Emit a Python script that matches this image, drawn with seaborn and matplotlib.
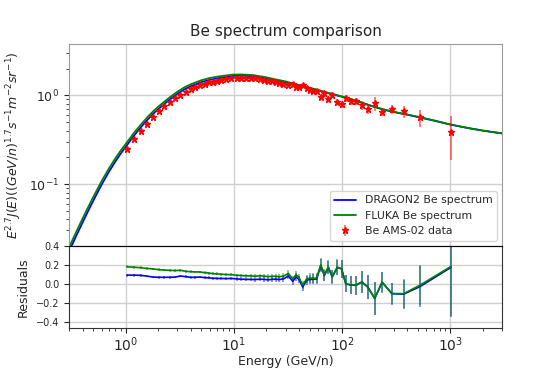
import numpy as np
import pandas as pd
import matplotlib
matplotlib.use("Agg")
import matplotlib.pyplot as plt
import seaborn as sns

sns.set_style("ticks")
plt.rcParams['font.family'] = ['DejaVu Sans']

# model curves
E_model = [0.3, 0.35, 0.4, 0.45, 0.5, 0.6, 0.7, 0.8, 0.9, 1.0, 1.2, 1.4, 1.6, 1.8, 2.0,
           2.5, 3.0, 3.5, 4.0, 5.0, 6.0, 7.0, 8.0, 10, 12, 15, 20, 25, 30, 40, 50, 60,
           80, 100, 130, 170, 200, 250, 300, 400, 500, 700, 1000, 1500, 2000, 3000]
dragon2 = [0.0174, 0.0261, 0.0368, 0.0495, 0.0641, 0.0984, 0.137, 0.178, 0.220, 0.262,
           0.354, 0.445, 0.535, 0.62, 0.70, 0.88, 1.04, 1.17, 1.27, 1.41, 1.50, 1.555,
           1.595, 1.66, 1.67, 1.645, 1.56, 1.47, 1.41, 1.29, 1.21, 1.14, 1.035, 0.965,
           0.88, 0.79, 0.74, 0.685, 0.65, 0.605, 0.57, 0.52, 0.468, 0.425, 0.40, 0.372]
fluka = [0.0193, 0.0289, 0.0408, 0.0547, 0.0706, 0.1080, 0.1495, 0.1935, 0.2385, 0.2825,
         0.3805, 0.4760, 0.5725, 0.663, 0.7455, 0.932, 1.097, 1.233, 1.337, 1.48, 1.572,
         1.625, 1.663, 1.718, 1.720, 1.694, 1.599, 1.503, 1.438, 1.307, 1.222, 1.148,
         1.04, 0.97, 0.882, 0.79, 0.74, 0.686, 0.652, 0.608, 0.574, 0.523, 0.47, 0.426,
         0.401, 0.373]

# AMS-02 Be data
E_data = [1.03, 1.19, 1.38, 1.56, 1.78, 2.02, 2.26, 2.57, 2.86, 3.21,
          3.59, 4.0, 4.42, 4.87, 5.38, 5.9, 6.4, 7.0, 7.6, 8.5,
          9.5, 10.6, 11.7, 13.0, 14.3, 15.6, 17.4, 19.1, 20.8, 22.3,
          24.3, 26.2, 28.7, 31.9, 35.0, 37.5, 40.0, 43.2, 47.0, 50.5,
          54.2, 58.2, 63.5, 68.4, 74.5, 81.0, 90.2, 98.7, 108, 120,
          134, 152, 173, 200, 234, 288, 370, 525, 1010]
flux = [0.247, 0.320, 0.397, 0.480, 0.570, 0.660, 0.758, 0.840, 0.930, 1.020,
        1.100, 1.190, 1.250, 1.300, 1.360, 1.400, 1.430, 1.460, 1.490, 1.540,
        1.580, 1.580, 1.580, 1.580, 1.580, 1.570, 1.540, 1.510, 1.470, 1.440,
        1.410, 1.390, 1.360, 1.310, 1.350, 1.240, 1.250, 1.310, 1.200, 1.150,
        1.130, 1.110, 0.970, 1.060, 0.920, 1.010, 0.840, 0.800, 0.925, 0.860,
        0.860, 0.770, 0.710, 0.810, 0.650, 0.700, 0.660, 0.565, 0.387]
flux_err = [0.004, 0.005, 0.006, 0.007, 0.008, 0.009, 0.011, 0.012, 0.013, 0.015,
            0.016, 0.017, 0.018, 0.019, 0.020, 0.021, 0.022, 0.023, 0.024, 0.025,
            0.027, 0.028, 0.029, 0.030, 0.031, 0.032, 0.033, 0.034, 0.035, 0.036,
            0.037, 0.038, 0.040, 0.045, 0.047, 0.048, 0.050, 0.055, 0.055, 0.058,
            0.060, 0.062, 0.065, 0.065, 0.067, 0.070, 0.070, 0.075, 0.080, 0.080,
            0.085, 0.090, 0.090, 0.140, 0.070, 0.080, 0.100, 0.120, 0.200]

# residuals (model - data) / data
res_dragon2 = [0.095, 0.095, 0.092, 0.085, 0.075, 0.072, 0.072, 0.072, 0.074, 0.085,
               0.078, 0.072, 0.072, 0.075, 0.068, 0.066, 0.062, 0.060, 0.060, 0.058,
               0.060, 0.055, 0.052, 0.050, 0.050, 0.048, 0.052, 0.050, 0.045, 0.050,
               0.052, 0.048, 0.055, 0.085, 0.030, 0.075, 0.050, -0.030, 0.040, 0.050,
               0.050, 0.055, 0.195, 0.090, 0.175, 0.075, 0.175, 0.160, 0.005, -0.010,
               -0.012, 0.022, -0.032, -0.150, 0.020, -0.100, -0.105, -0.025, 0.175]
res_fluka = [0.182, 0.178, 0.172, 0.165, 0.160, 0.152, 0.148, 0.145, 0.142, 0.145,
             0.135, 0.130, 0.128, 0.128, 0.120, 0.116, 0.110, 0.107, 0.105, 0.100,
             0.100, 0.093, 0.090, 0.087, 0.087, 0.083, 0.087, 0.084, 0.078, 0.082,
             0.083, 0.078, 0.084, 0.112, 0.055, 0.098, 0.070, -0.012, 0.055, 0.063,
             0.062, 0.065, 0.203, 0.096, 0.180, 0.079, 0.178, 0.163, 0.007, -0.009,
             -0.011, 0.023, -0.031, -0.149, 0.021, -0.098, -0.100, -0.010, 0.185]

res_err = np.array(flux_err) / np.array(flux)

df_model = pd.DataFrame({'E': E_model, 'DRAGON2': dragon2, 'FLUKA': fluka})

fig = plt.figure(figsize=(5.58, 3.68), dpi=100)
ax1 = fig.add_axes([0.1237, 0.3315, 0.776, 0.549])
ax2 = fig.add_axes([0.1237, 0.1087, 0.776, 0.2228], sharex=ax1)

sns.lineplot(data=df_model, x='E', y='DRAGON2', ax=ax1, color='blue', lw=1.3,
             label='DRAGON2 Be spectrum', estimator=None)
sns.lineplot(data=df_model, x='E', y='FLUKA', ax=ax1, color='green', lw=1.3,
             label='FLUKA Be spectrum', estimator=None)
ax1.errorbar(E_data, flux, yerr=flux_err, fmt='*', color='red', ms=4.5,
             elinewidth=1.2, ecolor=(1, 0, 0, 0.6), label='Be AMS-02 data')

ax1.set_xscale('log')
ax1.set_yscale('log')
ax1.set_xlim(0.3, 3000)
ax1.set_ylim(0.02, 3.8)
ax1.set_title('Be spectrum comparison', fontsize=11)
ax1.set_xlabel('')
ax1.set_ylabel(r'$E^{2.7}J(E)((GeV/n)^{1.7}s^{-1}m^{-2}sr^{-1})$', fontsize=9)
ax1.grid(True, which='major', color='#d0d0d0', lw=1)
ax1.tick_params(axis='x', which='both', labelbottom=False, length=0)
ax1.tick_params(axis='y', labelsize=9)
for side in ['left', 'top', 'right']:
    ax1.spines[side].set_color('#9a9a9a')
ax1.spines['bottom'].set_color('black')
ax1.legend(loc='lower right', fontsize=7.8, framealpha=0.8)

for res, col in [(res_dragon2, 'blue'), (res_fluka, 'green')]:
    line, caps, bars = ax2.errorbar(E_data, res, yerr=res_err, color=col, lw=1.2,
                                    elinewidth=1.1)
    for b in bars:
        b.set_alpha(0.55)

ax2.set_ylim(-0.46, 0.4)
ax2.set_yticks([-0.4, -0.2, 0.0, 0.2, 0.4])
ax2.set_ylabel('Residuals', fontsize=9)
ax2.set_xlabel('Energy (GeV/n)', fontsize=9, labelpad=1)
ax2.grid(True, which='major', color='#d0d0d0', lw=1)
ax2.tick_params(axis='x', labelsize=10, pad=1.5)
ax2.tick_params(axis='y', labelsize=7)
for side in ['left', 'bottom', 'right']:
    ax2.spines[side].set_color('#333333')
ax2.spines['top'].set_color('black')

fig.savefig('out.png', dpi=100)
